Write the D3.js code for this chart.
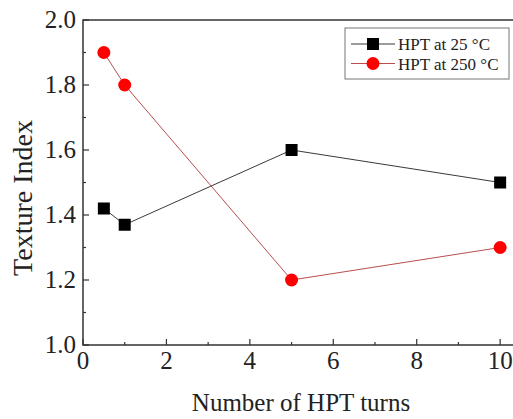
<!DOCTYPE html>
<html>
<head>
<meta charset="utf-8">
<script src="https://cdn.jsdelivr.net/npm/d3@7"></script>
<style>
  body { margin: 0; background: #fff; }
</style>
</head>
<body>
<svg id="chart" width="513" height="419"></svg>
<script>
"use strict";

// данные
const turns = [0.5, 1, 5, 10];
const texture25 = [1.42, 1.37, 1.6, 1.5];
const texture250 = [1.9, 1.8, 1.2, 1.3];
const seriesNames = ["HPT at 25 \u00B0C", "HPT at 250 \u00B0C"];
const xTicks = [0, 2, 4, 6, 8, 10];
const yTicks = [1.0, 1.2, 1.4, 1.6, 1.8, 2.0];

(function draw() {
    const svg = d3.select("#chart");
    const serif = "'Liberation Serif'";
    const textColor = "#222";

    // область построения (правая граница уходит за край картинки)
    const pLeft = 83, pTop = 20, pBottom = 345, pRight = 521;

    const x = d3.scaleLinear().domain([0, 10.5]).range([pLeft, pRight]);
    const y = d3.scaleLinear().domain([1.0, 2.0]).range([pBottom, pTop]);

    const frameColor = "#333";

    // минорные деления
    const xMinor = d3.range(1, 11, 2);
    const yMinor = d3.range(1.1, 2.0, 0.2);

    const g = svg.append("g");

    // рамка: левая, верхняя, нижняя
    g.append("path")
        .attr("d", `M${pRight + 20},${pTop} H${pLeft} V${pBottom} H${pRight + 20}`)
        .attr("fill", "none")
        .attr("stroke", frameColor)
        .attr("stroke-width", 1.5);

    // деления по x (внутрь)
    g.selectAll(".xmaj").data(xTicks).join("line")
        .attr("x1", d => x(d)).attr("x2", d => x(d))
        .attr("y1", pBottom).attr("y2", pBottom - 6)
        .attr("stroke", frameColor).attr("stroke-width", 1.2);
    g.selectAll(".xmin").data(xMinor).join("line")
        .attr("x1", d => x(d)).attr("x2", d => x(d))
        .attr("y1", pBottom).attr("y2", pBottom - 3)
        .attr("stroke", frameColor).attr("stroke-width", 1.2);

    // деления по y
    g.selectAll(".ymaj").data(yTicks).join("line")
        .attr("x1", pLeft).attr("x2", pLeft + 6)
        .attr("y1", d => y(d)).attr("y2", d => y(d))
        .attr("stroke", frameColor).attr("stroke-width", 1.2);
    g.selectAll(".ymin").data(yMinor).join("line")
        .attr("x1", pLeft).attr("x2", pLeft + 3)
        .attr("y1", d => y(d)).attr("y2", d => y(d))
        .attr("stroke", frameColor).attr("stroke-width", 1.2);

    // подписи делений
    g.selectAll(".xlab").data(xTicks).join("text")
        .attr("x", d => x(d)).attr("y", pBottom + 24)
        .attr("text-anchor", "middle")
        .style("font-family", serif).style("font-size", "25px").style("fill", textColor)
        .text(d => d);
    g.selectAll(".ylab").data(yTicks).join("text")
        .attr("x", pLeft - 7).attr("y", d => y(d) + 8)
        .attr("text-anchor", "end")
        .style("font-family", serif).style("font-size", "25px").style("fill", textColor)
        .text(d => d.toFixed(1));

    // названия осей
    svg.append("text")
        .attr("x", 301).attr("y", 411)
        .attr("text-anchor", "middle")
        .style("font-family", serif).style("font-size", "25px").style("fill", textColor)
        .text("Number of HPT turns");
    svg.append("text")
        .attr("transform", "translate(32,198) rotate(-90)")
        .attr("text-anchor", "middle")
        .style("font-family", serif).style("font-size", "28px").style("fill", textColor)
        .text("Texture Index");

    const line = d3.line().x(d => x(d[0])).y(d => y(d[1]));
    const pts25 = turns.map((t, i) => [t, texture25[i]]);
    const pts250 = turns.map((t, i) => [t, texture250[i]]);

    // линии
    svg.append("path").datum(pts25)
        .attr("d", line).attr("fill", "none")
        .attr("stroke", "#222").attr("stroke-width", 0.9);
    svg.append("path").datum(pts250)
        .attr("d", line).attr("fill", "none")
        .attr("stroke", "#b03a3a").attr("stroke-width", 0.9);

    // маркеры
    const sq = 12, rad = 6.5;
    svg.selectAll(".sq").data(pts25).join("rect")
        .attr("x", d => x(d[0]) - sq / 2).attr("y", d => y(d[1]) - sq / 2)
        .attr("width", sq).attr("height", sq)
        .attr("fill", "#000");
    svg.selectAll(".ci").data(pts250).join("circle")
        .attr("cx", d => x(d[0])).attr("cy", d => y(d[1]))
        .attr("r", rad)
        .attr("fill", "#f00");

    // легенда
    const lg = svg.append("g").attr("transform", "translate(345,28)");
    lg.append("rect")
        .attr("width", 164).attr("height", 51)
        .attr("fill", "#fff").attr("stroke", "#777").attr("stroke-width", 1);
    const rows = [
        { name: seriesNames[0], color: "#222", kind: "sq" },
        { name: seriesNames[1], color: "#b03a3a", kind: "ci" }
    ];
    rows.forEach((r, i) => {
        const cy = 16 + i * 19.5;
        lg.append("line")
            .attr("x1", 6).attr("x2", 50).attr("y1", cy).attr("y2", cy)
            .attr("stroke", r.color).attr("stroke-width", 0.9);
        if (r.kind === "sq") {
            lg.append("rect").attr("x", 28 - sq / 2).attr("y", cy - sq / 2)
                .attr("width", sq).attr("height", sq).attr("fill", "#000");
        } else {
            lg.append("circle").attr("cx", 28).attr("cy", cy).attr("r", rad).attr("fill", "#f00");
        }
        lg.append("text")
            .attr("x", 53).attr("y", cy + 6)
            .style("font-family", serif).style("font-size", "17px").style("fill", textColor)
            .text(r.name);
    });
})();
</script>
</body>
</html>
